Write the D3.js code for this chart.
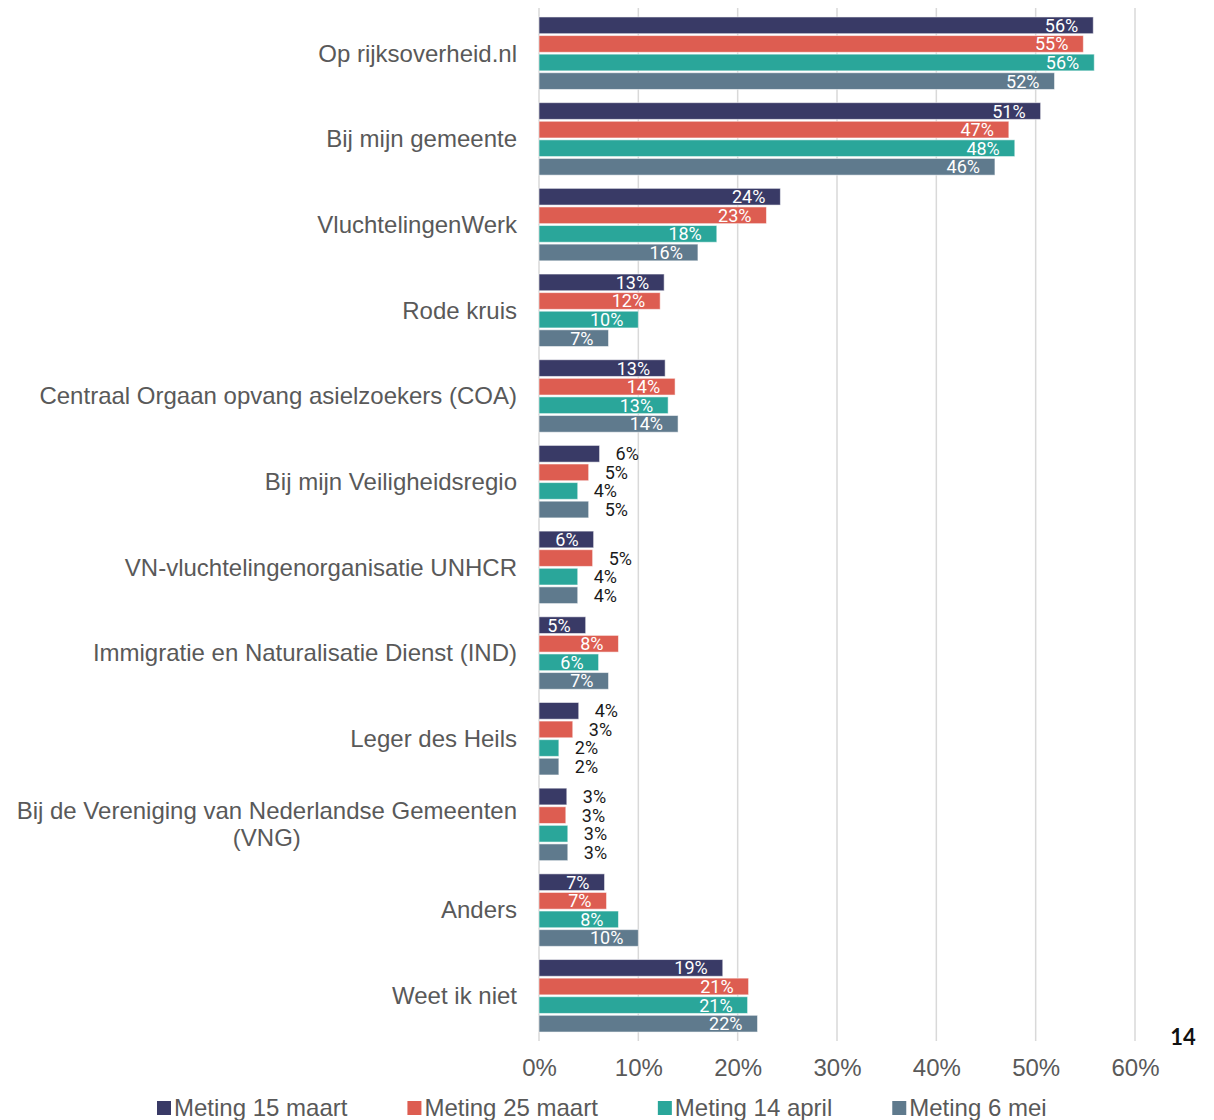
<!DOCTYPE html>
<html>
<head>
<meta charset="utf-8">
<script src="https://cdn.jsdelivr.net/npm/d3@7"></script>
<style>
  html, body { margin: 0; padding: 0; background: #fff; }
  svg { display: block; }
</style>
</head>
<body>
<div id="chart"></div>
<script>
// categorieën (van boven naar beneden)
var categories = [
  "Op rijksoverheid.nl",
  "Bij mijn gemeente",
  "VluchtelingenWerk",
  "Rode kruis",
  "Centraal Orgaan opvang asielzoekers (COA)",
  "Bij mijn Veiligheidsregio",
  "VN-vluchtelingenorganisatie UNHCR",
  "Immigratie en Naturalisatie Dienst (IND)",
  "Leger des Heils",
  "Bij de Vereniging van Nederlandse Gemeenten (VNG)",
  "Anders",
  "Weet ik niet"
];
var series = ["Meting 15 maart", "Meting 25 maart", "Meting 14 april", "Meting 6 mei"];
var colors = ["#393a66", "#dd5d51", "#2aa69a", "#5f7a8d"];

// waarden (%) per meting
var meting15maart = [55.8, 50.5, 24.3, 12.6, 12.7, 6.1, 5.5, 4.7, 4.0, 2.8, 6.6, 18.5];
var meting25maart = [54.8, 47.3, 22.9, 12.2, 13.7, 5.0, 5.4, 8.0, 3.4, 2.7, 6.8, 21.1];
var meting14april = [55.9, 47.9, 17.9, 10.0, 13.0, 3.9, 3.9, 6.0, 2.0, 2.9, 8.0, 21.0];
var meting6mei    = [51.9, 45.9, 16.0, 7.0, 14.0, 5.0, 3.9, 7.0, 2.0, 2.9, 10.0, 22.0];
// labels zoals getoond
var labels15maart = ["56%", "51%", "24%", "13%", "13%", "6%", "6%", "5%", "4%", "3%", "7%", "19%"];
var labels25maart = ["55%", "47%", "23%", "12%", "14%", "5%", "5%", "8%", "3%", "3%", "7%", "21%"];
var labels14april = ["56%", "48%", "18%", "10%", "13%", "4%", "4%", "6%", "2%", "3%", "8%", "21%"];
var labels6mei    = ["52%", "46%", "16%", "7%", "14%", "5%", "4%", "7%", "2%", "3%", "10%", "22%"];
// label buiten de balk?
var outside15maart = [0, 0, 0, 0, 0, 1, 0, 0, 1, 1, 0, 0];
var outside25maart = [0, 0, 0, 0, 0, 1, 1, 0, 1, 1, 0, 0];
var outside14april = [0, 0, 0, 0, 0, 1, 1, 0, 1, 1, 0, 0];
var outside6mei    = [0, 0, 0, 0, 0, 1, 1, 0, 1, 1, 0, 0];
var xTicks = [0, 10, 20, 30, 40, 50, 60];

var values = [meting15maart, meting25maart, meting14april, meting6mei],
  labels = [labels15maart, labels25maart, labels14april, labels6mei],
  outside = [outside15maart, outside25maart, outside14april, outside6mei];

var width = 1214, height = 1120,
  font = "'Liberation Sans', Arial, sans-serif",
  fontSize = 24,
  textColor = "#595959";

var svg = d3.select("#chart").append("svg")
  .attr("width", width).attr("height", height);

var x = d3.scaleLinear().domain([0, 60]).range([539, 1135]);

var y0 = d3.scaleBand()
  .domain(categories)
  .range([9, 1040])
  .paddingInner(0.154)
  .paddingOuter(0.093);

var y1 = d3.scaleBand()
  .domain(series)
  .range([0, y0.bandwidth()])
  .paddingInner(0.1)
  .paddingOuter(0);

// rasterlijnen
svg.append("g").selectAll("line")
  .data(xTicks)
  .enter().append("line")
  .attr("x1", function(d) { return x(d); })
  .attr("x2", function(d) { return x(d); })
  .attr("y1", 8)
  .attr("y2", 1041)
  .attr("stroke", "#d9d9d9")
  .attr("stroke-width", 1.5);

// x-as labels
var xAxis = d3.axisBottom(x)
  .tickValues(xTicks)
  .tickSize(0)
  .tickPadding(0)
  .tickFormat(function(d) { return d + "%"; });
var gx = svg.append("g")
  .attr("transform", "translate(0,1076)")
  .call(xAxis);
gx.select(".domain").remove();
gx.selectAll("text")
  .attr("font-family", font)
  .attr("font-size", fontSize)
  .attr("fill", textColor)
  .attr("dy", 0);

// balken per meting
var groups = svg.append("g").selectAll("g")
  .data(series)
  .enter().append("g");

groups.each(function(s, si) {
  var g = d3.select(this);
  var rows = categories.map(function(c, ci) {
    return { cat: c, v: values[si][ci], label: labels[si][ci], out: outside[si][ci] };
  });
  g.selectAll("rect")
    .data(rows)
    .enter().append("rect")
    .attr("x", x(0))
    .attr("y", function(d) { return y0(d.cat) + y1(s); })
    .attr("width", function(d) { return x(d.v) - x(0); })
    .attr("height", y1.bandwidth())
    .attr("fill", colors[si])
    .attr("stroke", "#ffffff")
    .attr("stroke-opacity", 0.55)
    .attr("stroke-width", 1);

  g.selectAll("text")
    .data(rows)
    .enter().append("text")
    .attr("x", function(d) { return d.out ? x(d.v) + 16 : x(d.v) - 15; })
    .attr("y", function(d) { return y0(d.cat) + y1(s) + y1.bandwidth() / 2; })
    .attr("dy", "0.36em")
    .attr("text-anchor", function(d) { return d.out ? "start" : "end"; })
    .attr("font-family", "Roboto, sans-serif")
    .attr("font-size", 18)
    .attr("fill", function(d) { return d.out ? "#1a1a1a" : "#ffffff"; })
    .text(function(d) { return d.label; });
});

// categorie labels
var catG = svg.append("g");
categories.forEach(function(c) {
  var cy = y0(c) + y0.bandwidth() / 2;
  var lines = c.length > 45 ? ["Bij de Vereniging van Nederlandse Gemeenten", "(VNG)"] : [c];
  if (lines.length === 1) {
    catG.append("text")
      .attr("x", 517).attr("y", cy).attr("dy", "0.35em")
      .attr("text-anchor", "end")
      .attr("font-family", font)
      .attr("font-size", fontSize)
      .attr("fill", textColor)
      .text(c);
  } else {
    var tmp = catG.append("text")
      .attr("font-family", font)
      .attr("font-size", fontSize)
      .text(lines[0]);
    var w = tmp.node().getComputedTextLength();
    tmp.remove();
    var cx = 517 - w / 2;
    lines.forEach(function(l, li) {
      catG.append("text")
        .attr("x", cx)
        .attr("y", cy + (li - 0.5) * 27)
        .attr("dy", "0.35em")
        .attr("text-anchor", "middle")
        .attr("font-family", font)
        .attr("font-size", fontSize)
        .attr("fill", textColor)
        .text(l);
    });
  }
});

// legenda, achter elkaar op tekstbreedte
var leg = svg.append("g");
var lx = 157;
series.forEach(function(s, i) {
  var item = leg.append("g").attr("transform", "translate(" + lx + ",0)");
  item.append("rect")
    .attr("y", 1101)
    .attr("width", 14).attr("height", 14)
    .attr("fill", colors[i]);
  var t = item.append("text")
    .attr("x", 17)
    .attr("y", 1116)
    .attr("font-family", font)
    .attr("font-size", fontSize)
    .attr("fill", textColor)
    .text(s);
  lx += 17 + t.node().getComputedTextLength() + 60;
});

// paginanummer
svg.append("text")
  .attr("x", 1183)
  .attr("y", 1045)
  .attr("text-anchor", "middle")
  .attr("font-family", "Lato, 'Open Sans', sans-serif")
  .attr("font-weight", "bold")
  .attr("font-size", 22)
  .attr("fill", "#111")
  .text("14");
</script>
</body>
</html>
